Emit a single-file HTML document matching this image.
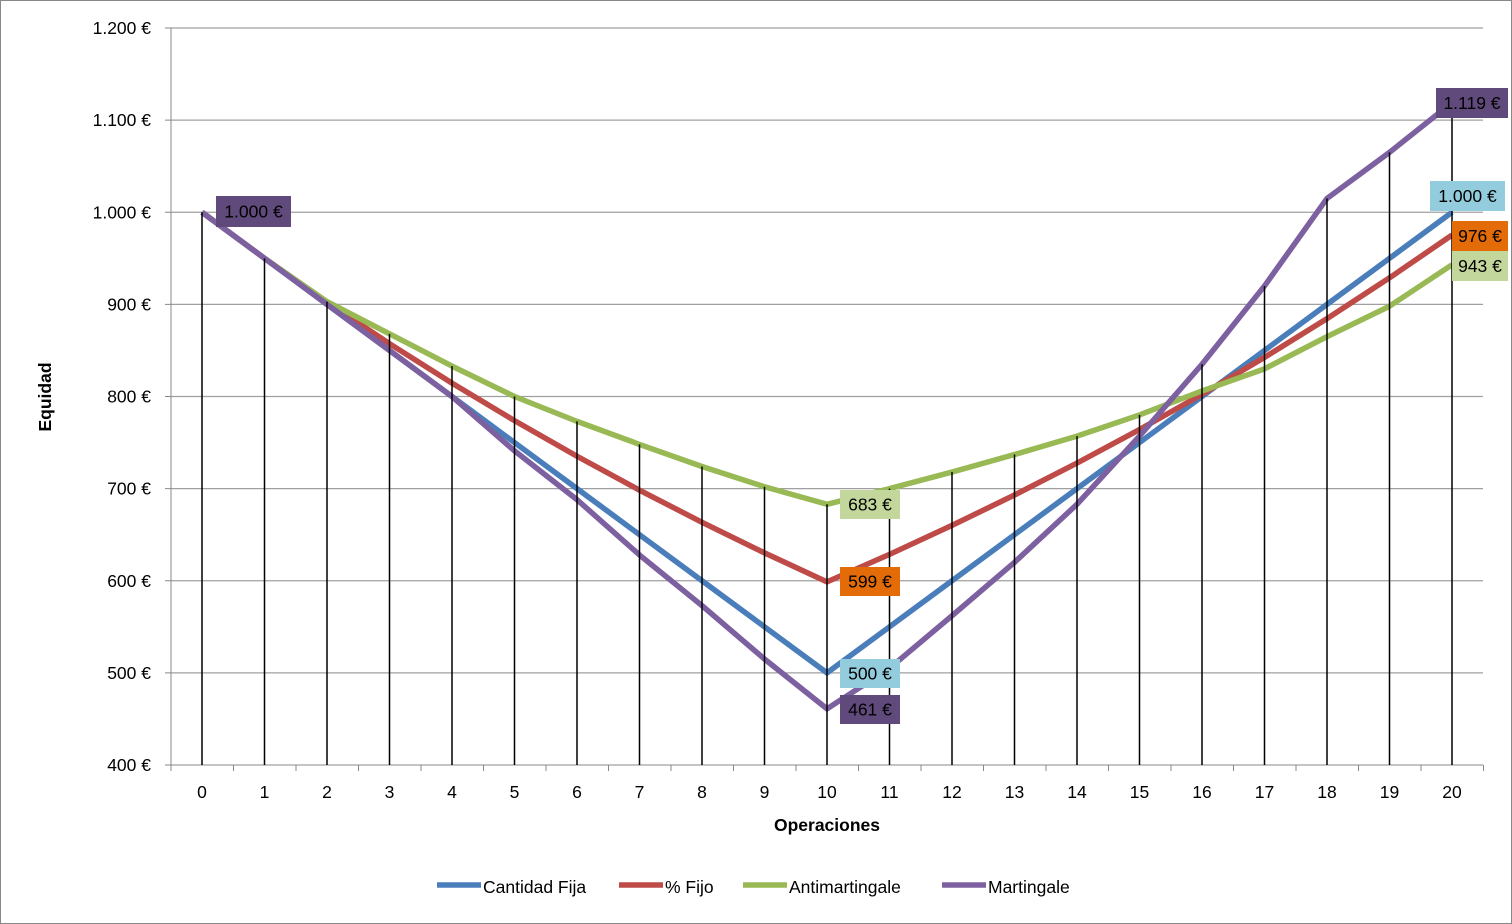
<!DOCTYPE html>
<html><head><meta charset="utf-8"><style>
html,body{margin:0;padding:0;background:#fff}
svg{display:block;font-family:"Liberation Sans",Arial,sans-serif}
</style></head><body>
<svg id="s" width="1512" height="924" xmlns="http://www.w3.org/2000/svg"></svg>
<script>
const FS=17.5;
const X=i=>202+i*62.5, Y=v=>765-(v-400)*0.92125;
const cf=[],pf=[];
for(let i=0;i<=20;i++){cf.push(i<=10?1000-50*i:500+50*(i-10));pf.push(i<=10?1000*Math.pow(0.95,i):598.7*Math.pow(1.05,i-10));}
const am=[1000,950,903,868,833,800,773,748,724,702,683,700,718,737,757,780,806,830,865,898,943];
const mg=[1000,950,900,850,800,741,688,628,573,515,461,505,562,620,683,757,835,920,1015,1065,1119];
let h='<rect x="0.5" y="0.5" width="1511" height="923" fill="#fff" stroke="#888"/>';
for(let v=400;v<=1200;v+=100){const y=Y(v);h+=`<line x1="171" x2="1483" y1="${y}" y2="${y}" stroke="#a0a0a0" stroke-width="1.3"/>`;
h+=`<line x1="165" x2="171" y1="${y}" y2="${y}" stroke="#888"/>`;
h+=`<text x="151" y="${y+6}" font-size="${FS}" text-anchor="end">${v>=1000?(''+v).replace(/^1/,'1.'):v} €</text>`;}
h+='<line x1="171" x2="171" y1="28" y2="765" stroke="#888"/>';
for(let i=0;i<=21;i++){const x=171+i*62.5;h+=`<line x1="${x}" x2="${x}" y1="765" y2="771" stroke="#888"/>`;}
for(let i=0;i<=20;i++)h+=`<text x="${X(i)}" y="798" font-size="${FS}" text-anchor="middle">${i}</text>`;
const path=(a,c)=>`<polyline fill="none" stroke="${c}" stroke-width="5.5" stroke-linejoin="round" points="${a.map((v,i)=>X(i)+','+Y(v)).join(' ')}"/>`;
h+=path(cf,'#4a7ebb')+path(pf,'#be4b48')+path(am,'#98b954')+path(mg,'#7d60a0');
for(let i=0;i<=20;i++){const m=Math.max(cf[i],pf[i],am[i],mg[i]);h+=`<line x1="${X(i)}" x2="${X(i)}" y1="${Y(m)}" y2="765" stroke="#000" stroke-width="1.5"/>`;}
const lab=(x,y,w,hh,c,t)=>`<rect x="${x}" y="${y}" width="${w}" height="${hh}" fill="${c}"/><text x="${x+w/2}" y="${y+hh/2+6}" font-size="${FS}" text-anchor="middle">${t}</text>`;
h+=lab(216,196,75,31,'#604a7b','1.000 €');
h+=lab(840,490,60,29,'#c3d69b','683 €');
h+=lab(840,567,60,29,'#e36c09','599 €');
h+=lab(840,659,60,29,'#93cddd','500 €');
h+=lab(840,695,60,29,'#604a7b','461 €');
h+=lab(1436,88,72,30,'#604a7b','1.119 €');
h+=lab(1430,181,75,30,'#93cddd','1.000 €');
h+=lab(1452,221,56,30,'#e36c09','976 €');
h+=lab(1452,251,56,30,'#c3d69b','943 €');
h+=`<text x="827" y="831" font-size="${FS}" font-weight="bold" text-anchor="middle">Operaciones</text>`;
h+=`<text transform="translate(51,397) rotate(-90)" font-size="${FS}" font-weight="bold" text-anchor="middle">Equidad</text>`;
const leg=[[437,'#4a7ebb','Cantidad Fija'],[619,'#be4b48','% Fijo'],[743,'#98b954','Antimartingale'],[942,'#7d60a0','Martingale']];
for(const [x,c,t] of leg){h+=`<line x1="${x}" x2="${x+44}" y1="885" y2="885" stroke="${c}" stroke-width="5.5"/><text x="${x+46}" y="893" font-size="${FS}">${t}</text>`;}
document.getElementById('s').innerHTML=h;
</script>
</body></html>
